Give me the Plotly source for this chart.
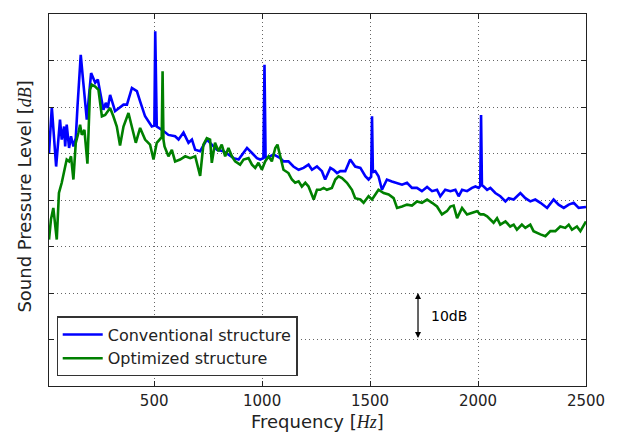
import plotly.graph_objects as go

# ---- data ----
conv_freq = [13, 26, 46, 64, 72, 83, 88, 95, 106, 115, 126, 137, 145, 149, 160, 172, 188, 208, 227, 239,
             265, 276, 285, 296, 319, 358, 374, 397, 420, 435, 458, 489, 501, 505, 509, 512, 536, 566,
             597, 613, 636, 659, 675, 690, 713, 744, 767, 791, 821, 844, 868, 891, 914, 930, 953, 976,
             991, 1006, 1011, 1016, 1022, 1053, 1084, 1099, 1122, 1145, 1169, 1192, 1215, 1231, 1254,
             1277, 1292, 1316, 1331, 1347, 1362, 1385, 1408, 1431, 1455, 1478, 1493, 1505, 1509, 1513,
             1524, 1539, 1555, 1578, 1601, 1625, 1648, 1671, 1694, 1717, 1740, 1764, 1787, 1810, 1825,
             1848, 1872, 1895, 1910, 1926, 1949, 1972, 1988, 2003, 2010, 2014, 2018, 2026, 2042, 2057,
             2080, 2103, 2127, 2142, 2165, 2196, 2219, 2242, 2265, 2289, 2320, 2350, 2373, 2397, 2420,
             2443, 2466, 2500]
conv_db = [50.1, 60.0, 47.2, 57.3, 53.0, 55.8, 51.5, 56.2, 51.2, 53.7, 51.5, 53.3, 60.1, 63.7, 71.2, 65.2,
           57.3, 67.3, 65.2, 65.9, 59.4, 60.9, 59.8, 62.6, 59.1, 60.5, 60.5, 64.1, 63.4, 61.2, 58.0, 55.8,
           56.0, 76.3, 56.0, 55.8, 55.1, 54.0, 53.7, 53.0, 54.5, 52.3, 53.0, 50.8, 50.5, 53.0, 51.9, 50.8,
           50.5, 49.8, 49.0, 48.7, 50.1, 51.2, 50.1, 49.0, 48.7, 49.0, 69.1, 49.2, 49.0, 49.8, 49.0, 48.3,
           48.3, 47.2, 46.5, 46.9, 47.6, 46.5, 47.2, 46.2, 44.4, 46.9, 46.5, 45.8, 46.2, 46.2, 48.7, 47.2,
           46.9, 45.1, 44.4, 45.0, 58.0, 46.0, 46.2, 45.1, 42.2, 44.4, 44.0, 43.7, 43.3, 43.7, 42.6, 42.6,
           41.9, 42.8, 41.9, 42.2, 40.8, 42.2, 41.9, 42.2, 40.8, 42.2, 41.9, 42.6, 42.9, 42.6, 43.0, 58.3,
           43.2, 42.9, 42.2, 42.6, 41.5, 40.8, 39.7, 40.4, 40.1, 41.5, 40.4, 39.7, 40.1, 39.4, 38.3, 40.1,
           39.0, 38.3, 39.0, 39.4, 38.3, 38.5]

opt_freq = [13, 22, 33, 41, 49, 59, 72, 88, 95, 106, 115, 126, 137, 149, 157, 165, 177, 191, 203, 211,
            227, 242, 258, 273, 296, 311, 327, 342, 358, 381, 397, 415, 435, 458, 481, 497, 512, 528,
            535, 539, 543, 548, 566, 582, 597, 620, 644, 667, 690, 713, 728, 744, 759, 767, 782, 798,
            813, 829, 844, 860, 875, 898, 914, 937, 953, 968, 983, 999, 1014, 1030, 1045, 1061, 1071,
            1084, 1099, 1122, 1138, 1153, 1169, 1184, 1200, 1215, 1239, 1254, 1269, 1285, 1300, 1323,
            1339, 1354, 1370, 1393, 1416, 1431, 1455, 1470, 1493, 1509, 1524, 1539, 1563, 1586, 1609,
            1625, 1648, 1671, 1694, 1717, 1740, 1764, 1787, 1810, 1833, 1856, 1872, 1887, 1903, 1926,
            1949, 1972, 1995, 2011, 2026, 2042, 2057, 2072, 2088, 2103, 2127, 2149, 2165, 2180, 2203,
            2219, 2242, 2257, 2289, 2312, 2335, 2358, 2381, 2404, 2420, 2435, 2458, 2474, 2500]
opt_db = [31.5, 35.8, 38.3, 35.1, 31.5, 41.5, 43.7, 47.2, 48.7, 48.3, 49.4, 44.4, 52.3, 54.4, 56.2, 54.0,
          55.1, 47.8, 63.7, 64.8, 64.4, 63.7, 58.0, 58.3, 59.8, 58.0, 55.8, 51.7, 55.8, 58.7, 55.8, 52.3,
          55.5, 53.0, 51.9, 48.7, 52.3, 53.0, 53.5, 67.7, 53.0, 51.5, 49.4, 50.8, 48.3, 48.7, 49.4, 49.0,
          49.4, 45.2, 51.9, 53.3, 53.0, 48.0, 52.3, 50.5, 51.9, 49.4, 51.2, 49.4, 48.3, 47.6, 48.7, 49.0,
          47.6, 46.9, 48.0, 46.5, 48.3, 49.4, 48.3, 51.2, 51.9, 49.4, 46.5, 45.8, 44.4, 43.7, 44.0, 42.9,
          43.7, 42.9, 40.1, 42.2, 42.2, 42.6, 42.2, 42.6, 44.4, 45.1, 44.7, 43.7, 42.2, 40.4, 40.1, 39.4,
          40.8, 40.1, 41.2, 42.2, 41.5, 41.2, 40.4, 38.3, 38.6, 39.0, 38.8, 39.7, 39.4, 40.1, 39.4, 38.6,
          36.9, 37.6, 38.6, 38.8, 36.1, 38.3, 36.9, 37.2, 37.6, 36.9, 36.9, 36.5, 35.8, 35.1, 36.1, 34.7,
          35.4, 34.3, 34.7, 33.6, 34.7, 34.0, 34.7, 33.3, 32.6, 32.2, 33.3, 33.3, 34.3, 34.0, 34.7, 33.6,
          34.3, 33.3, 35.4]

x_ticks = [500, 1000, 1500, 2000, 2500]
y_ticks = [0, 10, 20, 30, 40, 50, 60, 70, 80]
scale_bar = [10, 20]  # 10 dB marker
scale_bar_freq = 1722
scale_text_freq = 1775

font_main = "DejaVu Sans"
serif = "Liberation Serif"

fig = go.Figure()
fig.add_trace(go.Scatter(x=conv_freq, y=conv_db, mode="lines", name="Conventional structure",
                         line=dict(color="#0000ff", width=2.6)))
fig.add_trace(go.Scatter(x=opt_freq, y=opt_db, mode="lines", name="Optimized structure",
                         line=dict(color="#008000", width=2.6)))

# 10 dB double arrow
fig.add_annotation(x=scale_bar_freq, y=scale_bar[1], ax=scale_bar_freq, ay=scale_bar[0],
                   xref="x", yref="y", axref="x", ayref="y", text="", showarrow=True,
                   arrowhead=2, arrowside="end+start", arrowsize=1, arrowwidth=1.2, arrowcolor="black")
fig.add_annotation(x=scale_text_freq, y=(scale_bar[0] + scale_bar[1]) / 2, xref="x", yref="y",
                   text="10dB", showarrow=False, xanchor="left", yanchor="middle",
                   font=dict(family=font_main, size=14, color="black"))

# axis titles
fig.add_annotation(x=0.5, y=-0.095, xref="paper", yref="paper", showarrow=False,
                   xanchor="center", yanchor="middle",
                   text=f"Frequency [<span style='font-family:{serif}'><i>Hz</i></span>]",
                   font=dict(family=font_main, size=18, color="#222"))
fig.add_annotation(x=-0.046, y=0.51, xref="paper", yref="paper", showarrow=False,
                   xanchor="center", yanchor="middle", textangle=-90,
                   text=f"Sound Pressure Level [<span style='font-family:{serif}'><i>dB</i></span>]",
                   font=dict(family=font_main, size=18, color="#222"))

axis_common = dict(showline=True, linecolor="#222", linewidth=1.3, mirror="allticks",
                   ticks="inside", ticklen=5, tickcolor="#222", automargin=False,
                   showgrid=True, gridcolor="#666666", griddash="1px,3px", gridwidth=1, zeroline=False)

fig.update_xaxes(range=[13, 2500], tickvals=x_ticks, ticktext=[str(v) for v in x_ticks],
                 tickfont=dict(family=font_main, size=15, color="#222"), ticklabelstandoff=1,
                 **axis_common)
fig.update_yaxes(range=[0, 80], tickvals=y_ticks, showticklabels=False, **axis_common)

# the page body adds an 8 px offset, so the figure is 8 px smaller than the window
fig.update_layout(
    width=609, height=425,
    margin=dict(l=41, r=31, t=6, b=47, autoexpand=False),
    paper_bgcolor="white", plot_bgcolor="white",
    showlegend=True,
    legend=dict(x=0.014, y=0.026, xanchor="left", yanchor="bottom",
                bgcolor="white", bordercolor="#333", borderwidth=1.2,
                font=dict(family=font_main, size=16, color="#222"),
                itemwidth=40, tracegroupgap=0),
)

fig.write_html("out.html")
